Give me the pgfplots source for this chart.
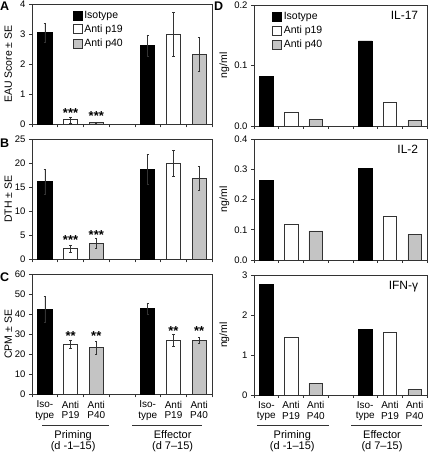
\documentclass[border=0pt]{standalone}
\usepackage{pgfplots}
\pgfplotsset{compat=1.18}
\usepackage{fontspec}
\setmainfont{Liberation Sans}
\definecolor{barG}{HTML}{C4C4C4}
\definecolor{edge}{HTML}{333333}
\pgfplotsset{
 panel/.style={
   scale only axis, anchor=south west,
   xmin=-0.5, xmax=6.5, ymin=0,
   ybar, bar width=0.55, bar shift=0pt,
   axis line style={edge, line width=0.6pt},
   xtick={-0.5,0.5,...,6.5}, xticklabels={},
   xtick pos=bottom, ytick pos=left, tick align=outside,
   major tick length=3pt,
   tick style={edge, line width=0.5pt},
   tick label style={font=\fontsize{9.5}{10.5}\selectfont},
   /pgf/number format/assume math mode=true,
   ylabel style={font=\fontsize{10.5}{11}\selectfont, anchor=base, inner sep=0pt},
   clip=false,
   error bars/y dir=both, error bars/y explicit,
   error bars/error bar style={edge, line width=0.5pt},
   error bars/error mark options={rotate=90, mark size=1.2pt, edge, line width=0.5pt},
   legend style={draw=none, fill=none, font=\fontsize{10.5}{11}\selectfont, inner sep=0pt, row sep=1pt, legend cell align=left},
   legend image code/.code={\draw[##1] (0pt,-4.5pt) rectangle (9pt,4.5pt);},
 },
 left/.style={panel, width=180pt, ylabel style={at={([xshift=-20pt]rel axis cs:0,0.5)}}},
 right/.style={panel, width=173pt, ylabel style={at={([xshift=-27pt]rel axis cs:0,0.5)}}},
 bottomlabels/.style={
   extra x ticks={0,1,2,4,5,6},
   extra x tick labels={{Iso-\\type},{Anti\\P19},{Anti\\P40},{Iso-\\type},{Anti\\P19},{Anti\\P40}},
   extra x tick style={tick style={draw=none}, xticklabel style={align=center, font=\fontsize{10}{10.5}\selectfont}},
 },
 isob/.style={fill=black, draw=black, line width=0.6pt},
 p19b/.style={fill=white, draw=edge, line width=0.6pt},
 p40b/.style={fill=barG, draw=edge, line width=0.6pt},
}
\newcommand{\stars}{\bfseries\fontsize{13}{13}\selectfont}
\newcommand{\grp}{\fontsize{11}{12}\selectfont}
\begin{document}
\begin{tikzpicture}
\path[use as bounding box] (0,0) rectangle (428pt,452pt);
% Panel A
\begin{axis}[left, at={(32pt,327.7pt)}, height=120.3pt, ymax=4, ytick={0,1,2,3,4},
  ylabel={EAU Score ± SE}, legend style={at={(0.225,0.96)}, anchor=north west}]
\addplot[isob] coordinates {(0,3.05) +- (0,0.31) (4,2.62) +- (0,0.35)};
\addlegendentry{Isotype}
\addplot[p19b] coordinates {(1,0.15) +- (0,0.1) (5,3.0) +- (0,0.73)};
\addlegendentry{Anti p19}
\addplot[p40b] coordinates {(2,0.05) +- (0,0.03) (6,2.33) +- (0,0.57)};
\addlegendentry{Anti p40}
\node[anchor=base, inner sep=0pt, font=\stars] at (axis cs:1,0.22) {***};
\node[anchor=base, inner sep=0pt, font=\stars] at (axis cs:2,0.13) {***};
\end{axis}
% Panel B
\begin{axis}[left, at={(32pt,192.7pt)}, height=120pt, ymax=25, ytick={0,5,...,25},
  ylabel={DTH ± SE}]
\addplot[isob] coordinates {(0,16.2) +- (0,2.6) (4,18.75) +- (0,3.1)};
\addplot[p19b] coordinates {(1,2.2) +- (0,0.8) (5,20.0) +- (0,2.7)};
\addplot[p40b] coordinates {(2,3.3) +- (0,1.0) (6,16.8) +- (0,2.5)};
\node[anchor=base, inner sep=0pt, font=\stars] at (axis cs:1,3.0) {***};
\node[anchor=base, inner sep=0pt, font=\stars] at (axis cs:2,4.1) {***};
\end{axis}
% Panel C
\begin{axis}[left, bottomlabels, at={(32pt,57.7pt)}, height=120pt, ymax=60, ytick={0,10,...,60},
  ylabel={CPM ± SE}]
\addplot[isob] coordinates {(0,42.6) +- (0,6.5) (4,42.8) +- (0,2.7)};
\addplot[p19b] coordinates {(1,25.0) +- (0,2.2) (5,27.2) +- (0,3.0)};
\addplot[p40b] coordinates {(2,23.3) +- (0,3.4) (6,27.0) +- (0,1.5)};
\node[anchor=base, inner sep=0pt, font=\stars] at (axis cs:1,26.8) {**};
\node[anchor=base, inner sep=0pt, font=\stars] at (axis cs:2,26.8) {**};
\node[anchor=base, inner sep=0pt, font=\stars] at (axis cs:5,29.3) {**};
\node[anchor=base, inner sep=0pt, font=\stars] at (axis cs:6,29.3) {**};
\draw[edge, line width=0.6pt] ([yshift=-30.7pt]axis cs:-0.1,0) -- ([yshift=-30.7pt]axis cs:2.5,0);
\draw[edge, line width=0.6pt] ([yshift=-30.7pt]axis cs:3.4,0) -- ([yshift=-30.7pt]axis cs:6.1,0);
\node[anchor=base, inner sep=0pt, font=\grp] at ([yshift=-43.7pt]axis cs:1.1,0) {Priming};
\node[anchor=base, inner sep=0pt, font=\grp] at ([yshift=-55.2pt]axis cs:1.1,0) {(d -1–15)};
\node[anchor=base, inner sep=0pt, font=\grp] at ([yshift=-43.7pt]axis cs:4.97,0) {Effector};
\node[anchor=base, inner sep=0pt, font=\grp] at ([yshift=-55.2pt]axis cs:4.97,0) {(d 7–15)};
\end{axis}
% Panel D1
\begin{axis}[right, at={(254pt,326pt)}, height=121pt, ymax=0.2, ytick={0,0.1,0.2},
  yticklabel style={/pgf/number format/.cd, fixed, fixed zerofill, precision=1},
  ylabel={ng/ml}, legend style={at={(0.104,0.96)}, anchor=north west}]
\addplot[isob] coordinates {(0,0.0824) (4,0.1405)};
\addlegendentry{Isotype}
\addplot[p19b] coordinates {(1,0.022) (5,0.0384)};
\addlegendentry{Anti p19}
\addplot[p40b] coordinates {(2,0.011) (6,0.0099)};
\addlegendentry{Anti p40}
\node[anchor=north east, inner sep=0pt, font=\fontsize{12}{13}\selectfont] at (rel axis cs:0.95,0.95) {IL-17};
\end{axis}
% Panel D2
\begin{axis}[right, at={(254pt,192pt)}, height=121pt, ymax=0.4, ytick={0,0.1,...,0.4},
  yticklabel style={/pgf/number format/.cd, fixed, fixed zerofill, precision=1},
  ylabel={ng/ml}]
\addplot[isob] coordinates {(0,0.262) (4,0.304)};
\addplot[p19b] coordinates {(1,0.118) (5,0.143)};
\addplot[p40b] coordinates {(2,0.096) (6,0.0835)};
\node[anchor=north east, inner sep=0pt, font=\fontsize{12}{13}\selectfont] at (rel axis cs:0.95,0.95) {IL-2};
\end{axis}
% Panel D3
\begin{axis}[right, bottomlabels, at={(254pt,57pt)}, height=120pt, ymax=3, ytick={0,1,2,3},
  ylabel={ng/ml}]
\addplot[isob] coordinates {(0,2.77) (4,1.64)};
\addplot[p19b] coordinates {(1,1.44) (5,1.57)};
\addplot[p40b] coordinates {(2,0.29) (6,0.14)};
\node[anchor=north east, inner sep=0pt, font=\fontsize{12}{13}\selectfont] at (rel axis cs:0.95,0.95) {IFN-γ};
\draw[edge, line width=0.6pt] ([yshift=-30pt]axis cs:-0.38,0) -- ([yshift=-30pt]axis cs:2.54,0);
\draw[edge, line width=0.6pt] ([yshift=-30pt]axis cs:3.43,0) -- ([yshift=-30pt]axis cs:6.3,0);
\node[anchor=base, inner sep=0pt, font=\grp] at ([yshift=-43pt]axis cs:1.05,0) {Priming};
\node[anchor=base, inner sep=0pt, font=\grp] at ([yshift=-54.5pt]axis cs:1.05,0) {(d -1–15)};
\node[anchor=base, inner sep=0pt, font=\grp] at ([yshift=-43pt]axis cs:4.68,0) {Effector};
\node[anchor=base, inner sep=0pt, font=\grp] at ([yshift=-54.5pt]axis cs:4.68,0) {(d 7–15)};
\end{axis}
% panel letters
\node[anchor=base west, inner sep=0pt, font=\bfseries\fontsize{12.5}{13}\selectfont] at (0pt,441.5pt) {A};
\node[anchor=base west, inner sep=0pt, font=\bfseries\fontsize{12.5}{13}\selectfont] at (0pt,304pt) {B};
\node[anchor=base west, inner sep=0pt, font=\bfseries\fontsize{12.5}{13}\selectfont] at (0pt,170pt) {C};
\node[anchor=base west, inner sep=0pt, font=\bfseries\fontsize{12.5}{13}\selectfont] at (214pt,441.5pt) {D};
\end{tikzpicture}
\end{document}
